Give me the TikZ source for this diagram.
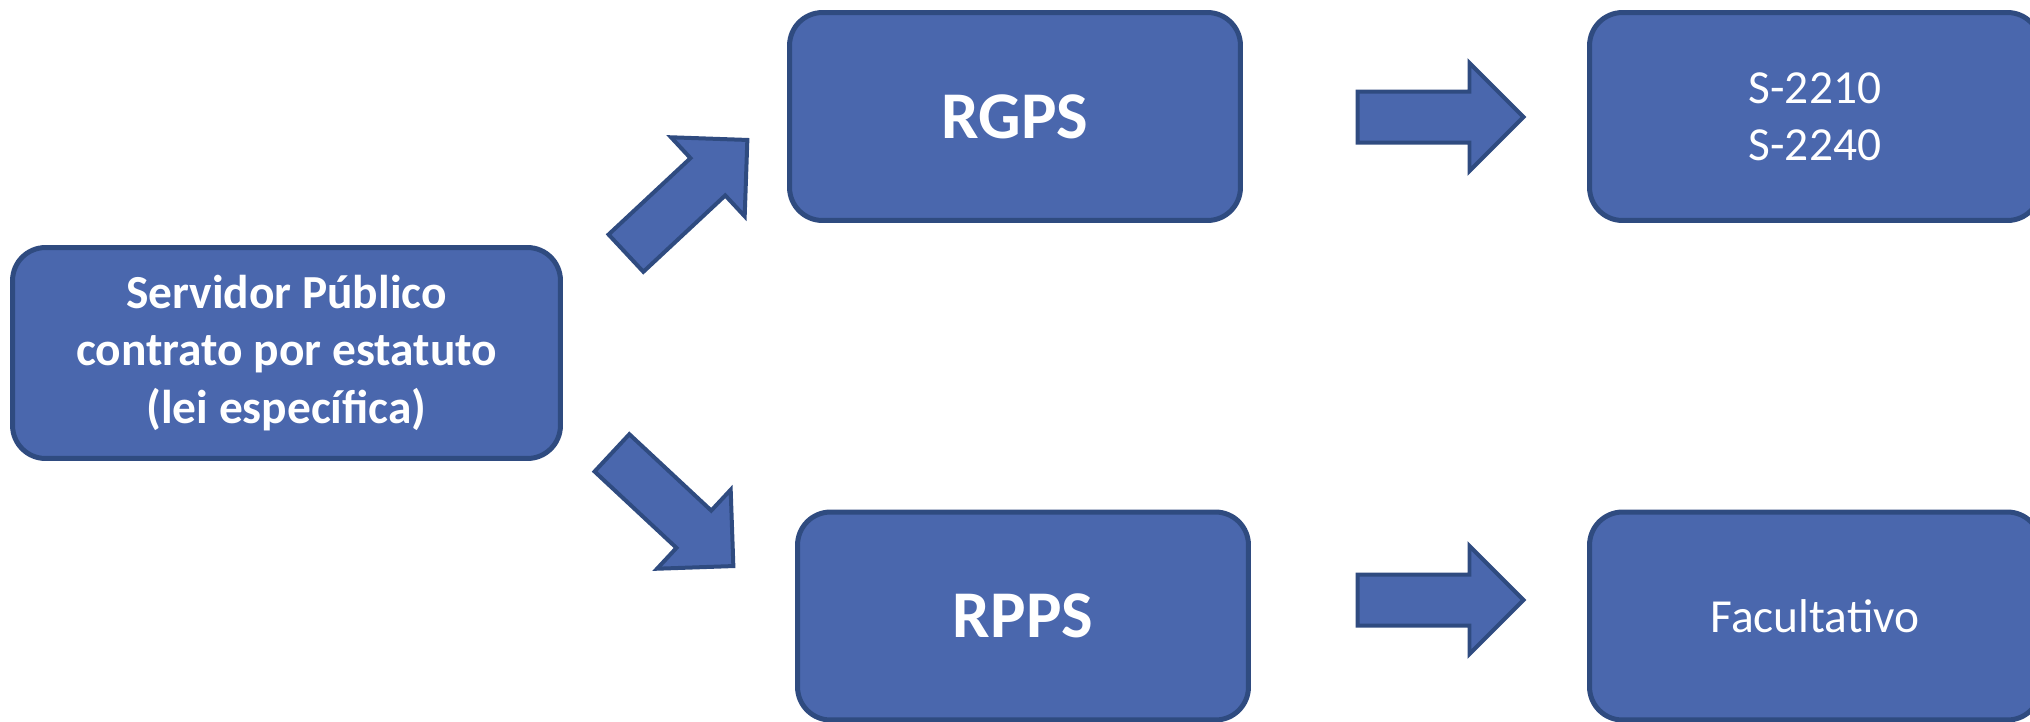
\documentclass[tikz,border=0pt]{standalone}
\usepackage{fontspec}
\setmainfont{Carlito}
\usetikzlibrary{shapes.arrows}
\definecolor{boxblue}{RGB}{74,103,173}
\definecolor{boxedge}{RGB}{47,75,128}

\begin{document}
\begin{tikzpicture}[x=0.02cm,y=-0.02cm,
  box/.style={rectangle,rounded corners=0.66cm,draw=boxedge,fill=boxblue,
    line width=0.1cm,minimum width=9.02cm,minimum height=4.16cm,
    text=white,align=center,inner sep=0pt},
  blockarrow/.style={single arrow,draw=boxedge,fill=boxblue,line width=0.08cm,
    inner xsep=0pt,inner ysep=0.47cm,minimum height=3.32cm,
    single arrow head extend=0.57cm,single arrow tip angle=90,anchor=tail}]
  % page frame, cut at the right and bottom
  \useasboundingbox (0,0) rectangle (2030,721);
  \clip (0,0) rectangle (2030,721);

  % boxes
  \node[box,minimum width=10.96cm,minimum height=4.22cm,
    font=\bfseries\fontsize{27}{32.7}\selectfont] (serv) at (286.5,353)
    {Servidor Público\\contrato por estatuto\\(lei específica)};
  \node[box,font=\bfseries\fontsize{38}{45}\selectfont] (rgps) at (1015,116.5) {RGPS};
  \node[box,font=\bfseries\fontsize{38}{45}\selectfont] (rpps) at (1023,616) {RPPS};
  \node[box,font=\fontsize{27}{32.7}\selectfont] (esoc) at (1815,116.5) {S-2210\\S-2240};
  \node[box,font=\fontsize{27}{32.7}\selectfont] (facult) at (1815,616) {Facultativo};

  % block arrows
  \node[blockarrow,rotate=43] (toRgps) at (624.5,254.5) {};
  \node[blockarrow,rotate=-43] (toRpps) at (610.5,451.5) {};
  \node[blockarrow] (toEsoc) at (1355.5,117) {};
  \node[blockarrow] (toFacult) at (1355.5,600) {};
\end{tikzpicture}
\end{document}
